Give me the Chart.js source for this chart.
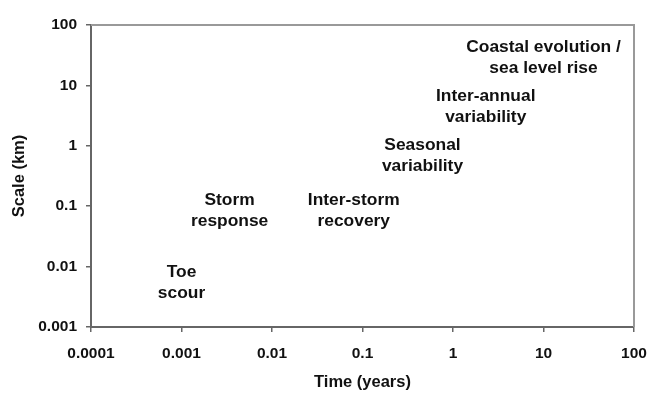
<!DOCTYPE html>
<html>
<head>
<meta charset="utf-8">
<script src="https://cdn.jsdelivr.net/npm/chart.js@4"></script>
<style>
  html, body { margin: 0; padding: 0; background: #fff; }
  #wrap { width: 649px; height: 393px; }
</style>
</head>
<body>
<div id="wrap"><canvas id="chart" width="649" height="393"></canvas></div>
<script>
// processes and their rough time / space scales
const processNames = [
  ['Toe', 'scour'],
  ['Storm', 'response'],
  ['Inter-storm', 'recovery'],
  ['Seasonal', 'variability'],
  ['Inter-annual', 'variability'],
  ['Coastal evolution /', 'sea level rise']
];
const timeYears = [0.001, 0.0034, 0.08, 0.46, 2.3, 10];
const scaleKm = [0.0055, 0.083, 0.083, 0.68, 4.4, 29];

const xTicks = [0.0001, 0.001, 0.01, 0.1, 1, 10, 100];
const xTickLabels = ['0.0001', '0.001', '0.01', '0.1', '1', '10', '100'];
const yTicks = [0.001, 0.01, 0.1, 1, 10, 100];
const yTickLabels = ['0.001', '0.01', '0.1', '1', '10', '100'];

const FONT = "'Liberation Sans', Arial, sans-serif";

// writes the process name at each point instead of a marker
const pointText = {
  id: 'pointText',
  afterDatasetsDraw(chart) {
    const ctx = chart.ctx;
    const xs = chart.scales.x, ys = chart.scales.y;
    ctx.save();
    ctx.font = 'bold 17.4px ' + FONT;
    ctx.fillStyle = '#111';
    ctx.textAlign = 'center';
    ctx.textBaseline = 'middle';
    processNames.forEach((lines, i) => {
      const px = xs.getPixelForValue(timeYears[i]);
      const py = ys.getPixelForValue(scaleKm[i]);
      const gap = 21;
      lines.forEach((t, j) => {
        ctx.fillText(t, px, py + (j - (lines.length - 1) / 2) * gap);
      });
    });
    ctx.restore();
  }
};

// light frame on the top and right of the plot area
const frame = {
  id: 'frame',
  beforeDatasetsDraw(chart) {
    const a = chart.chartArea, ctx = chart.ctx;
    ctx.save();
    ctx.strokeStyle = '#999';
    ctx.lineWidth = 2;
    ctx.beginPath();
    ctx.moveTo(a.left, a.top);
    ctx.lineTo(a.right, a.top);
    ctx.lineTo(a.right, a.bottom);
    ctx.stroke();
    ctx.restore();
  }
};

new Chart(document.getElementById('chart'), {
  type: 'scatter',
  data: {
    datasets: [{
      data: timeYears.map((t, i) => ({ x: t, y: scaleKm[i] })),
      pointRadius: 0,
      pointHoverRadius: 0
    }]
  },
  options: {
    responsive: false,
    animation: false,
    layout: { autoPadding: false, padding: { top: 25, right: 15, left: 0, bottom: 0 } },
    plugins: { legend: { display: false }, tooltip: { enabled: false } },
    scales: {
      x: {
        type: 'logarithmic',
        min: 0.0001,
        max: 100,
        afterBuildTicks: s => { s.ticks = xTicks.map(v => ({ value: v })); },
        afterFit: s => { s.height = 66; s.paddingLeft = 0; s.paddingRight = 0; },
        ticks: {
          autoSkip: false,
          maxRotation: 0,
          padding: 12,
          color: '#111',
          font: { family: FONT, size: 15.5, weight: 'bold' },
          callback: (v, i) => xTickLabels[i]
        },
        grid: { drawOnChartArea: false, drawTicks: true, tickLength: 5, color: '#666', lineWidth: 1.5 },
        border: { display: true, color: '#666', width: 2 },
        title: {
          display: true,
          text: 'Time (years)',
          color: '#111',
          font: { family: FONT, size: 16.5, weight: 'bold' },
          padding: { top: 0, bottom: 1 }
        }
      },
      y: {
        type: 'logarithmic',
        min: 0.001,
        max: 100,
        afterBuildTicks: s => { s.ticks = yTicks.map(v => ({ value: v })); },
        afterFit: s => { s.width = 91; s.paddingTop = 0; s.paddingBottom = 0; },
        ticks: {
          autoSkip: false,
          padding: 9,
          color: '#111',
          font: { family: FONT, size: 15.5, weight: 'bold' },
          callback: (v, i) => yTickLabels[i]
        },
        grid: { drawOnChartArea: false, drawTicks: true, tickLength: 5, color: '#666', lineWidth: 1.5 },
        border: { display: true, color: '#666', width: 2 },
        title: {
          display: true,
          text: 'Scale (km)',
          color: '#111',
          font: { family: FONT, size: 16.5, weight: 'bold' },
          padding: { top: 10, bottom: 0 }
        }
      }
    }
  },
  plugins: [frame, pointText]
});
</script>
</body>
</html>
